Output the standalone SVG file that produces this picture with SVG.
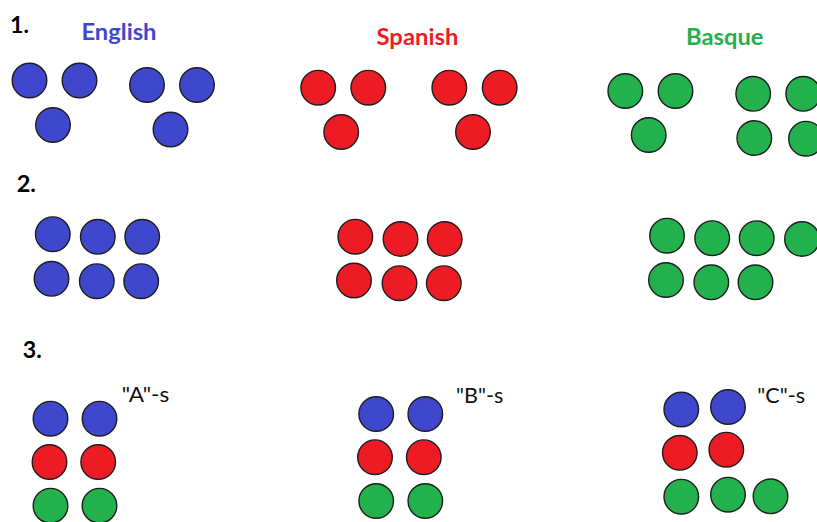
<svg xmlns="http://www.w3.org/2000/svg" width="817" height="522" viewBox="0 0 817 522">
<style>
.b{fill:#3f48cc}.r{fill:#ed1c24}.g{fill:#22b14c}
circle{stroke:#1e1e1e;stroke-width:1.4}
.num{font-family:Lato,"Open Sans",sans-serif;font-weight:bold;font-size:22px;fill:#000}
.ttl{font-family:Lato,"Open Sans",sans-serif;font-weight:bold;font-size:22px}
.lbl{font-family:Lato,"Open Sans",sans-serif;font-size:21px;fill:#111}
</style>
<rect width="817" height="522" fill="#fff"/>
<g id="section1">
<text class="num" x="10" y="33" textLength="19" lengthAdjust="spacingAndGlyphs">1.</text>
<g id="english1">
<text class="ttl" x="81.5" y="40" fill="#3f48cc" textLength="75" lengthAdjust="spacingAndGlyphs">English</text>
<circle class="b" cx="29.5" cy="80.5" r="17.3"/><circle class="b" cx="79.5" cy="80.5" r="17.3"/><circle class="b" cx="53" cy="125" r="17.3"/>
<circle class="b" cx="147" cy="85" r="17.3"/><circle class="b" cx="197" cy="85" r="17.3"/><circle class="b" cx="170.5" cy="129.5" r="17.3"/>
</g>
<g id="spanish1">
<text class="ttl" x="376.5" y="45" fill="#ed1c24" textLength="82" lengthAdjust="spacingAndGlyphs">Spanish</text>
<circle class="r" cx="318.2" cy="87.7" r="17.3"/><circle class="r" cx="368.3" cy="87.7" r="17.3"/><circle class="r" cx="341.2" cy="132" r="17.3"/>
<circle class="r" cx="449.3" cy="87.7" r="17.3"/><circle class="r" cx="499.7" cy="87.7" r="17.3"/><circle class="r" cx="473" cy="132" r="17.3"/>
</g>
<g id="basque1">
<text class="ttl" x="686" y="45" fill="#22b14c" textLength="77.5" lengthAdjust="spacingAndGlyphs">Basque</text>
<circle class="g" cx="625.3" cy="91" r="17.3"/><circle class="g" cx="675.5" cy="91" r="17.3"/><circle class="g" cx="648.7" cy="135" r="17.3"/>
<circle class="g" cx="753.2" cy="93.8" r="17.3"/><circle class="g" cx="803.2" cy="93.8" r="17.3"/>
<circle class="g" cx="754.3" cy="138" r="17.3"/><circle class="g" cx="806" cy="138.7" r="17.3"/>
</g>
</g>
<g id="section2">
<text class="num" x="16.7" y="192" textLength="19.3" lengthAdjust="spacingAndGlyphs">2.</text>
<g id="english2">
<circle class="b" cx="52.8" cy="234.2" r="17.3"/><circle class="b" cx="97.8" cy="236.8" r="17.3"/><circle class="b" cx="142.2" cy="236.8" r="17.3"/>
<circle class="b" cx="51.5" cy="278.8" r="17.3"/><circle class="b" cx="96.8" cy="281.2" r="17.3"/><circle class="b" cx="141.2" cy="281.2" r="17.3"/>
</g>
<g id="spanish2">
<circle class="r" cx="355.3" cy="236.7" r="17.3"/><circle class="r" cx="400.5" cy="239" r="17.3"/><circle class="r" cx="444.7" cy="239" r="17.3"/>
<circle class="r" cx="354" cy="280.5" r="17.3"/><circle class="r" cx="399.5" cy="283.2" r="17.3"/><circle class="r" cx="443.8" cy="283.2" r="17.3"/>
</g>
<g id="basque2">
<circle class="g" cx="667" cy="235.7" r="17.3"/><circle class="g" cx="712.2" cy="238.2" r="17.3"/><circle class="g" cx="756.7" cy="238.2" r="17.3"/><circle class="g" cx="802" cy="239" r="17.3"/>
<circle class="g" cx="666" cy="280" r="17.3"/><circle class="g" cx="711.3" cy="282.3" r="17.3"/><circle class="g" cx="755.5" cy="282.3" r="17.3"/>
</g>
</g>
<g id="section3">
<text class="num" x="22.7" y="358" textLength="19" lengthAdjust="spacingAndGlyphs">3.</text>
<g id="groupA">
<text class="lbl" x="121.7" y="402" textLength="47.6" lengthAdjust="spacingAndGlyphs">"A"-s</text>
<circle class="b" cx="50.5" cy="418.7" r="17.3"/><circle class="b" cx="99.5" cy="418.7" r="17.3"/>
<circle class="r" cx="49.5" cy="462" r="17.3"/><circle class="r" cx="98.2" cy="462" r="17.3"/>
<circle class="g" cx="50.5" cy="505.7" r="17.3"/><circle class="g" cx="99.5" cy="505.7" r="17.3"/>
</g>
<g id="groupB">
<text class="lbl" x="456" y="403" textLength="47.3" lengthAdjust="spacingAndGlyphs">"B"-s</text>
<circle class="b" cx="376.2" cy="414" r="17.3"/><circle class="b" cx="425.3" cy="414" r="17.3"/>
<circle class="r" cx="375" cy="457.2" r="17.3"/><circle class="r" cx="423.8" cy="457.2" r="17.3"/>
<circle class="g" cx="376.2" cy="501" r="17.3"/><circle class="g" cx="425.3" cy="501" r="17.3"/>
</g>
<g id="groupC">
<text class="lbl" x="757.3" y="403" textLength="47.7" lengthAdjust="spacingAndGlyphs">"C"-s</text>
<circle class="b" cx="681.3" cy="409.5" r="17.3"/><circle class="b" cx="728" cy="407" r="17.3"/>
<circle class="r" cx="679.8" cy="452.8" r="17.3"/><circle class="r" cx="726.3" cy="449.7" r="17.3"/>
<circle class="g" cx="681.3" cy="496.7" r="17.3"/><circle class="g" cx="728" cy="494.7" r="17.3"/><circle class="g" cx="770.5" cy="496.3" r="17.3"/>
</g>
</g>
<g id="connectors"/>
</svg>
